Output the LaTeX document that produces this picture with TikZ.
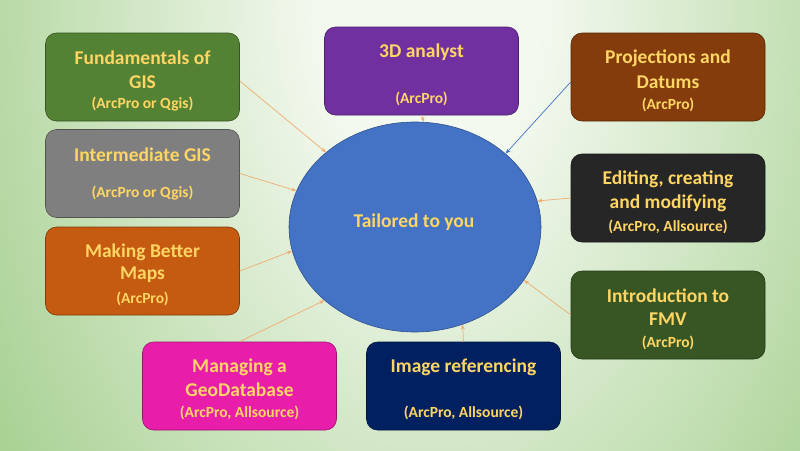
\documentclass[tikz,border=0pt]{standalone}
\usepackage{fontspec}
\setmainfont{Carlito}
\usetikzlibrary{shapes.geometric,arrows.meta}
\definecolor{bgA}{RGB}{244,249,240}
\definecolor{bgB}{RGB}{98,172,60}
\definecolor{txt}{RGB}{255,214,100}
\definecolor{cFund}{RGB}{84,130,53}
\definecolor{cThree}{RGB}{112,48,160}
\definecolor{cProj}{RGB}{132,60,12}
\definecolor{cInt}{RGB}{127,127,127}
\definecolor{cEdit}{RGB}{38,38,38}
\definecolor{cMak}{RGB}{197,90,17}
\definecolor{cFmv}{RGB}{55,86,35}
\definecolor{cMan}{RGB}{232,30,170}
\definecolor{cImg}{RGB}{0,32,96}
\definecolor{cEll}{RGB}{68,114,196}
\definecolor{cEllB}{RGB}{47,82,143}
\definecolor{cArr}{RGB}{240,172,112}
\pgfdeclareradialshading{bgsh}{\pgfpoint{0bp}{0bp}}{color(0bp)=(bgA); color(3bp)=(bgA); color(25bp)=(bgB); color(50bp)=(bgB)}
\tikzset{
  box/.style={fill=#1, draw=#1!65!black, line width=0.6pt, rounded corners=11pt,
    minimum width=194pt, minimum height=88pt, inner sep=0pt},
  ttl/.style={text=txt, font=\fontsize{19.5}{23}\selectfont\bfseries, inner sep=0pt},
  sub/.style={text=txt, font=\fontsize{15.5}{18}\selectfont\bfseries, inner sep=0pt},
  arr/.style={draw=cArr, line width=0.7pt, -{Stealth[length=5pt,width=4pt]}},
  barr/.style={draw=cEll, line width=0.7pt, -{Stealth[length=5pt,width=4pt]}}
}
\begin{document}
\begin{tikzpicture}[x=1pt,y=-1pt]
\useasboundingbox (0,0) rectangle (800,450);
\begin{scope}
\clip (0,0) rectangle (800,450);
\fill[shading=bgsh] (430,0) ellipse (900 and 1400);
\end{scope}

% central ellipse
\node[ellipse, fill=cEll, draw=cEllB, line width=0.6pt, minimum width=252pt, minimum height=210pt, inner sep=0pt] (ell) at (415,227) {};
\node[ttl] (tailor) at (414,222) {Tailored to you};

% boxes
\node[box=cFund] (fund) at (142.5,77) {};
\node[ttl] (fundA) at (142.5,58) {Fundamentals of};
\node[ttl] (fundB) at (142.5,82) {GIS};
\node[sub] (fundC) at (142.5,104) {(ArcPro or Qgis)};

\node[box=cThree] (three) at (421.5,71) {};
\node[ttl] (threeA) at (421.5,52) {3D analyst};
\node[sub] (threeB) at (421.5,99) {(ArcPro)};

\node[box=cProj] (proj) at (668,77) {};
\node[ttl] (projA) at (668,58) {Projections and};
\node[ttl] (projB) at (668,82) {Datums};
\node[sub] (projC) at (668,105) {(ArcPro)};

\node[box=cInt] (inter) at (142.5,173.5) {};
\node[ttl] (interA) at (142.5,155) {Intermediate GIS};
\node[sub] (interB) at (142.5,193) {(ArcPro or Qgis)};

\node[box=cEdit] (edit) at (668,198) {};
\node[ttl] (editA) at (668,179) {Editing, creating};
\node[ttl] (editB) at (668,203) {and modifying};
\node[sub] (editC) at (668,227) {(ArcPro, Allsource)};

\node[box=cMak] (mak) at (142.5,271) {};
\node[ttl] (makA) at (142.5,252) {Making Better};
\node[ttl] (makB) at (142.5,275) {Maps};
\node[sub] (makC) at (142.5,299) {(ArcPro)};

\node[box=cFmv] (fmv) at (668,315) {};
\node[ttl] (fmvA) at (668,296) {Introduction to};
\node[ttl] (fmvB) at (668,319) {FMV};
\node[sub] (fmvC) at (668,343) {(ArcPro)};

\node[box=cMan] (man) at (239.5,386) {};
\node[ttl] (manA) at (239.5,367) {Managing a};
\node[ttl] (manB) at (239.5,390) {GeoDatabase};
\node[sub] (manC) at (239.5,413) {(ArcPro, Allsource)};

\node[box=cImg] (img) at (463.5,386) {};
\node[ttl] (imgA) at (463.5,367) {Image referencing};
\node[sub] (imgB) at (463.5,413) {(ArcPro, Allsource)};

% connectors
\draw[arr] ([yshift=-4pt]fund.east) -- (ell.140.6);
\draw[arr] (inter.east) -- (ell.163);
\draw[arr] (mak.east) -- (ell.191.6);
\draw[arr] (man.north) -- (ell.219.5);
\draw[arr] (img.north) -- (ell.296);
\draw[arr] (fmv.west) -- (ell.334);
\draw[arr] (edit.west) -- (ell.12.5);
\draw[barr] ([yshift=-5pt]proj.west) -- (ell.39.5);
\draw[arr] (three.south) -- (ell.85.6);
\end{tikzpicture}
\end{document}
